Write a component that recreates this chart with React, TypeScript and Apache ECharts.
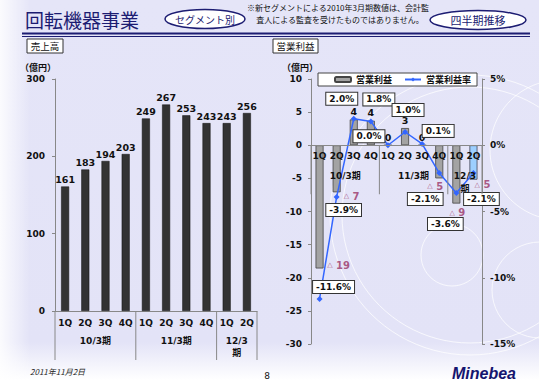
import React, { useEffect, useRef } from "react";
import * as echarts from "echarts";

const FONT = "'DejaVu Sans', 'Noto Sans CJK JP', sans-serif";
const JP = "'Noto Sans CJK JP', sans-serif";
const NAVY = "#1c1c72";

// ---- data ----
const quarters = ["1Q", "2Q", "3Q", "4Q", "1Q", "2Q", "3Q", "4Q", "1Q", "2Q"];
const periodNames = ["10/3期", "11/3期", "12/3\n期"];
const periodFirst = [0, 4, 8];
const periodLast = [3, 7, 9];
const sales = [161, 183, 194, 203, 249, 267, 253, 243, 243, 256];
const opIncome = [-18.6, -7.1, 3.9, 3.7, 0, 2.6, 0, -5.0, -8.8, -5.2];
const opMargin = [-11.6, -3.9, 2.0, 1.8, 0.0, 1.0, 0.1, -2.1, -3.6, -2.1];
const salesTicks = [0, 100, 200, 300];
const incomeTicks = [-30, -25, -20, -15, -10, -5, 0, 5, 10];
const marginTicks = [-15, -10, -5, 0, 5];

// ---- label placement (styles, not data) ----
const marginLabelOffset: number[][] = [
  [14, -12], [7, 13], [-12, -20], [8, -22], [-19, -9],
  [3, -22], [16, -13], [-14, 26], [-11, 31], [8, 26],
];
const lossLabelOffset: (number[] | null)[] = [
  [19, -3], [15, 4], null, null, null, null, null, [-4, 8], [1, 9], [9, 5],
];

const txt = (
  text: string, x: number, y: number, font: string, fill = "#111",
  align = "center", extra: any = {}
) => ({
  type: "text",
  z: 50,
  silent: true,
  style: {
    text, x, y, font, fill,
    align, verticalAlign: "middle", textAlign: align, textVerticalAlign: "middle",
    ...extra,
  },
});

export default function App() {
  const ref = useRef<HTMLDivElement>(null);

  useEffect(() => {
    const chart = echarts.init(ref.current!, undefined, { renderer: "svg" });
    const last = opIncome.length - 1;
    const axisLabel = { color: "#111", fontWeight: "bold", fontSize: 9, fontFamily: FONT };

    const option: any = {
      animation: false,
      backgroundColor: new echarts.graphic.LinearGradient(0, 0, 0, 1, [
        { offset: 0, color: "#e5e5f8" },
        { offset: 0.9, color: "#e3e3f7" },
        { offset: 1, color: "#ffffff" },
      ]),
      textStyle: { fontFamily: FONT },
      legend: {
        data: ["営業利益", "営業利益率"],
        left: 318,
        top: 73,
        padding: [2, 6, 2, 16],
        itemGap: 12,
        itemWidth: 16,
        itemHeight: 5,
        backgroundColor: "#fff",
        borderColor: "#444",
        borderWidth: 1,
        textStyle: { fontSize: 9, fontWeight: "bold", color: "#111", fontFamily: JP },
      },
      grid: [
        { left: 55, right: 282, top: 79, bottom: 69 },
        { left: 311, right: 57, top: 79, bottom: 36 },
      ],
      xAxis: [
        {
          type: "category", gridIndex: 0, data: quarters,
          axisLine: { lineStyle: { color: "#888" } },
          axisTick: { length: 10, interval: 0, lineStyle: { color: "#888" } },
          axisLabel: { ...axisLabel, margin: 7, interval: 0 },
        },
        {
          type: "category", gridIndex: 1, data: quarters, z: 10,
          position: "bottom",
          axisLine: { onZero: false, lineStyle: { color: "#888" } },
          axisTick: { length: 8, interval: 0, lineStyle: { color: "#888" } },
          axisLabel: { ...axisLabel, margin: 6, interval: 0 },
        },
      ],
      yAxis: [
        {
          type: "value", gridIndex: 0,
          min: salesTicks[0], max: salesTicks[salesTicks.length - 1],
          interval: salesTicks[1] - salesTicks[0],
          splitLine: { show: false },
          axisLine: { show: true, lineStyle: { color: "#888" } },
          axisTick: { show: true, length: 3, lineStyle: { color: "#888" } },
          axisLabel: { ...axisLabel, margin: 10 },
        },
        {
          type: "value", gridIndex: 1,
          min: incomeTicks[0], max: incomeTicks[incomeTicks.length - 1],
          interval: incomeTicks[1] - incomeTicks[0],
          splitLine: { show: false },
          axisLine: { show: true, lineStyle: { color: "#888" } },
          axisTick: { show: true, length: 3, lineStyle: { color: "#888" } },
          axisLabel: { ...axisLabel, margin: 9 },
        },
        {
          type: "value", gridIndex: 1, position: "right",
          min: marginTicks[0], max: marginTicks[marginTicks.length - 1],
          interval: marginTicks[1] - marginTicks[0],
          splitLine: { show: false },
          axisLine: { show: true, lineStyle: { color: "#888" } },
          axisTick: { show: true, length: 3, lineStyle: { color: "#888" } },
          axisLabel: { ...axisLabel, margin: 8, formatter: "{value}%" },
        },
      ],
      series: [
        {
          name: "売上高", type: "bar", xAxisIndex: 0, yAxisIndex: 0,
          data: sales, barWidth: 8,
          itemStyle: { color: "#333333", borderColor: "#111", borderWidth: 0.5 },
          label: {
            show: true, position: "top", distance: 2,
            fontWeight: "bold", fontSize: 9.5, color: "#111", fontFamily: FONT,
          },
        },
        {
          name: "営業利益", type: "bar", xAxisIndex: 1, yAxisIndex: 1,
          barWidth: 8,
          data: opIncome.map((v, i) => ({
            value: v,
            itemStyle: i === last ? { color: "#9ccfff", borderColor: "#445" } : undefined,
            label: { show: v >= 0 },
          })),
          itemStyle: { color: "#a3a3a3", borderColor: "#444", borderWidth: 0.8 },
          label: {
            position: "top", distance: 3,
            fontWeight: "bold", fontSize: 9.5, color: "#111", fontFamily: FONT,
            formatter: (p: any) => String(Math.round(p.value)),
          },
        },
        {
          name: "loss", type: "scatter", xAxisIndex: 1, yAxisIndex: 1,
          symbolSize: 1, silent: true,
          itemStyle: { color: "rgba(0,0,0,0)" },
          data: opIncome
            .map((v, i) => (v < 0 ? { value: [i, v], label: { offset: lossLabelOffset[i] || [0, 0] } } : null))
            .filter((d) => d !== null),
          label: {
            show: true, position: "inside",
            formatter: (p: any) => "{t|△} " + Math.round(-p.value[1]),
            color: "#993366", fontWeight: "bold", fontSize: 10, fontFamily: FONT,
            rich: { t: { fontSize: 7, color: "#993366", fontFamily: FONT } },
          },
          z: 6,
        },
        {
          name: "営業利益率", type: "line", xAxisIndex: 1, yAxisIndex: 2,
          symbol: "diamond", symbolSize: 6,
          itemStyle: { color: "#3366ff" },
          lineStyle: { color: "#3366ff", width: 1.5 },
          data: opMargin.map((v, i) => ({ value: v, label: { offset: marginLabelOffset[i] } })),
          label: {
            show: true, position: "inside",
            formatter: (p: any) => Number(p.value).toFixed(1) + "%",
            backgroundColor: "#fff", borderColor: "#333", borderWidth: 1,
            padding: [2, 3, 1, 3],
            color: "#111", fontWeight: "bold", fontSize: 9, fontFamily: FONT,
          },
          z: 5,
        },
      ],
    };

    chart.setOption(option);

    // move the right x axis up to the zero line (through the value axis)
    const fR = { xAxisIndex: 1, yAxisIndex: 1 };
    const zeroY = (chart.convertToPixel(fR as any, [0, 0]) as number[])[1];
    const bottomY = (chart.convertToPixel(fR as any, [0, incomeTicks[0]]) as number[])[1];
    chart.setOption({ xAxis: [{}, { offset: zeroY - bottomY }] });

    const g: any[] = [];
    // decorative background
    g.push({
      type: "rect", z: -5, silent: true,
      shape: { x: 0, y: 0, width: 30, height: 380 },
      style: {
        fill: new echarts.graphic.LinearGradient(0, 0, 1, 0, [
          { offset: 0, color: "rgba(255,255,255,0.85)" },
          { offset: 1, color: "rgba(255,255,255,0)" },
        ]),
      },
    });
    const circles = [
      [452, 255, 31], [540, 290, 48], [470, 215, 128], [470, 215, 140], [560, 150, 70],
    ];
    circles.forEach(([cx, cy, r]) =>
      g.push({
        type: "circle", z: -4, silent: true,
        shape: { cx, cy, r },
        style: { fill: "none", stroke: "rgba(255,255,255,0.75)", lineWidth: 1 },
      })
    );

    // header
    g.push(txt("回転機器事業", 25, 19, `19px ${JP}`, NAVY, "left"));
    g.push({
      type: "ellipse", z: 40, silent: true,
      shape: { cx: 205, cy: 19, rx: 40, ry: 9.5 },
      style: { fill: "#fff", stroke: NAVY, lineWidth: 1.5 },
    });
    g.push(txt("セグメント別", 205, 19, `10px ${JP}`, NAVY));
    g.push(txt("※新セグメントによる2010年3月期数値は、会計監", 338, 7, `8px ${JP}`, "#111"));
    g.push(txt("査人による監査を受けたものではありません。", 340, 19, `8px ${JP}`, "#111"));
    g.push({
      type: "ellipse", z: 40, silent: true,
      shape: { cx: 478, cy: 20, rx: 48, ry: 9.5 },
      style: { fill: "#fff", stroke: NAVY, lineWidth: 1.5 },
    });
    g.push(txt("四半期推移", 478, 20, `11px ${JP}`, NAVY));
    g.push({
      type: "line", z: 40, silent: true,
      shape: { x1: 22, y1: 33.5, x2: 530, y2: 33.5 },
      style: { stroke: NAVY, lineWidth: 2 },
    });
    g.push({
      type: "line", z: 40, silent: true,
      shape: { x1: 22, y1: 36.5, x2: 530, y2: 36.5 },
      style: { stroke: NAVY, lineWidth: 1 },
    });
    // panel titles
    g.push({
      type: "rect", z: 40, silent: true,
      shape: { x: 27, y: 39, width: 36, height: 14 },
      style: { fill: "#fff", stroke: "#333", lineWidth: 1 },
    });
    g.push(txt("売上高", 45, 46, `9.5px ${JP}`));
    g.push({
      type: "rect", z: 40, silent: true,
      shape: { x: 273, y: 39, width: 45, height: 14 },
      style: { fill: "#fff", stroke: "#333", lineWidth: 1 },
    });
    g.push(txt("営業利益", 295.5, 46, `9.5px ${JP}`));
    g.push(txt("（億円）", 38, 67, `bold 9px ${JP}`));
    g.push(txt("（億円）", 300, 67, `bold 9px ${JP}`));
    // footer
    g.push(txt("2011年11月2日", 30, 371, `italic 8px ${JP}`, "#222", "left"));
    g.push(txt("8", 267, 376, `9px ${FONT}`, "#111"));
    g.push(txt("Minebea", 452, 373, `italic bold 16px 'Liberation Sans', Arial, sans-serif`, "#15156e", "left"));

    // period separators & labels, positioned through the axes
    const addPeriods = (xi: number, yi: number, labelDy: number, lineDy: number, lineLen: number) => {
      const f = { xAxisIndex: xi, yAxisIndex: yi };
      const p0 = chart.convertToPixel(f as any, [0, 0]) as number[];
      const p1 = chart.convertToPixel(f as any, [1, 0]) as number[];
      const half = (p1[0] - p0[0]) / 2;
      const y0 = p0[1];
      periodFirst.forEach((first, k) => {
        const xs = (chart.convertToPixel(f as any, [first, 0]) as number[])[0] - half;
        const xe = (chart.convertToPixel(f as any, [periodLast[k], 0]) as number[])[0] + half;
        const edges = k === periodFirst.length - 1 ? [xs, xe] : [xs];
        edges.forEach((x) =>
          g.push({
            type: "line", z: 30, silent: true,
            shape: { x1: x, y1: y0, x2: x, y2: y0 + lineLen },
            style: { stroke: "#888", lineWidth: 1 },
          })
        );
        periodNames[k].split("\n").forEach((line, j) =>
          g.push(txt(line, (xs + xe) / 2, y0 + labelDy + j * lineDy, `bold 9px ${FONT}`))
        );
      });
    };
    addPeriods(0, 0, 30, 12, 49);
    addPeriods(1, 1, 31, 13, 49);

    chart.setOption({ graphic: g });

    return () => chart.dispose();
  }, []);

  return (
    <div
      ref={ref}
      style={{ position: "absolute", left: 0, top: 0, width: 539, height: 380 }}
    />
  );
}
